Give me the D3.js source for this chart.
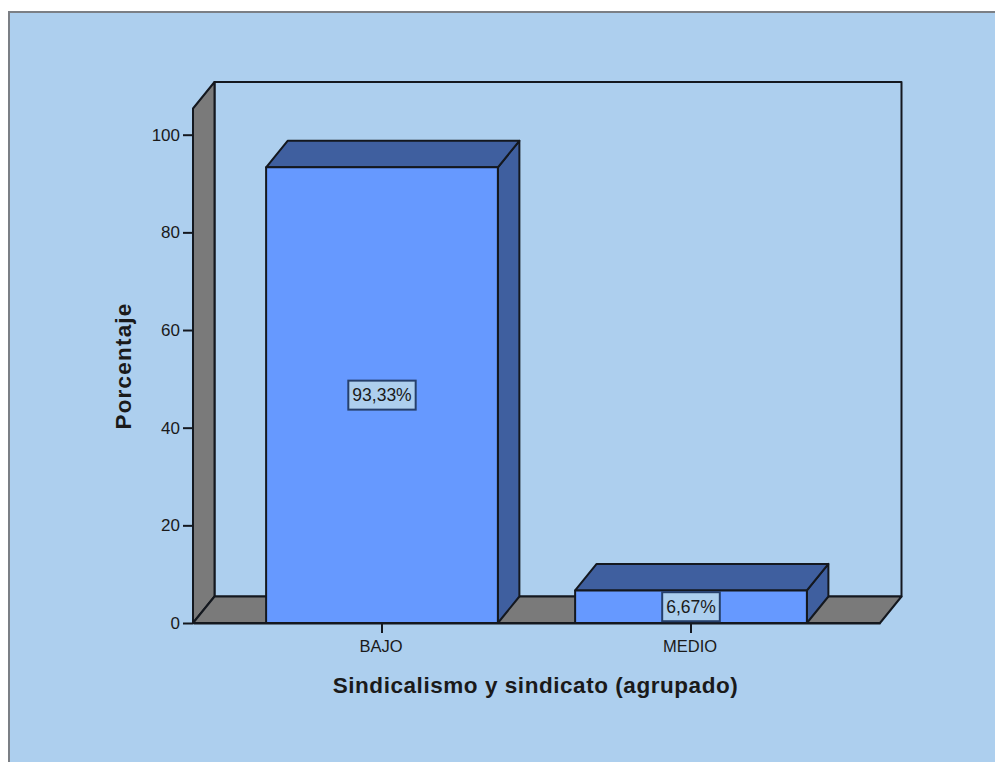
<!DOCTYPE html>
<html>
<head>
<meta charset="utf-8">
<script src="https://cdn.jsdelivr.net/npm/d3@7/dist/d3.min.js"></script>
<style>
html, body { margin: 0; padding: 0; background: #fff; }
svg { display: block; }
text { font-family: "Liberation Sans", Arial, sans-serif; fill: #1a1a1a; }
</style>
</head>
<body>
<svg id="chart" width="995" height="762"></svg>
<script>
const categories = ["BAJO", "MEDIO"];
const percentages = [93.33, 6.67];
const percentLabels = ["93,33%", "6,67%"];
const yTicks = [0, 20, 40, 60, 80, 100];
const xTitle = "Sindicalismo y sindicato (agrupado)";
const yTitle = "Porcentaje";

const W = 995, H = 762;
const ink = "#14181f";
const depthX = 21.5, depthY = -26.5;
const plot = { left: 193, right: 880, bottom: 623, top: 108.5 };

const svg = d3.select("#chart");

const x = d3.scaleBand()
  .domain(categories)
  .range([plot.left, plot.right])
  .paddingInner(0.25)
  .paddingOuter(0.2366);

const y = d3.scaleLinear()
  .domain([0, 100])
  .range([plot.bottom, 134.7]);

// Outer panel with its grey border on the top and left edges
svg.append("rect").attr("width", W).attr("height", H).attr("fill", "#fff");
svg.append("rect").attr("x", 9).attr("y", 12).attr("width", W).attr("height", H)
  .attr("fill", "#adcfee").attr("stroke", "#7b7f85").attr("stroke-width", 2);

const pts = a => a.map(p => p.join(",")).join(" ");
const wallStyle = s => s.attr("stroke", ink).attr("stroke-width", 2).attr("stroke-linejoin", "round");

// Back wall of the 3D box
svg.append("rect")
  .attr("x", plot.left + depthX).attr("y", plot.top + depthY)
  .attr("width", plot.right - plot.left).attr("height", plot.bottom - plot.top)
  .attr("fill", "#adcfee").call(wallStyle);

// Left wall
svg.append("polygon")
  .attr("points", pts([
    [plot.left, plot.top], [plot.left + depthX, plot.top + depthY],
    [plot.left + depthX, plot.bottom + depthY], [plot.left, plot.bottom]
  ]))
  .attr("fill", "#7a7a7a").call(wallStyle);

// Floor
svg.append("polygon")
  .attr("points", pts([
    [plot.left, plot.bottom], [plot.left + depthX, plot.bottom + depthY],
    [plot.right + depthX, plot.bottom + depthY], [plot.right, plot.bottom]
  ]))
  .attr("fill", "#7a7a7a").call(wallStyle);

// Axes
const yAxis = d3.axisLeft(y).tickValues(yTicks).tickSize(10).tickSizeOuter(0).tickPadding(3);
const gy = svg.append("g").attr("transform", `translate(${plot.left},0)`).call(yAxis);
gy.select(".domain").remove();
gy.selectAll("line").attr("stroke", ink).attr("stroke-width", 2);
gy.selectAll("text").attr("font-size", 17).attr("font-family", null);

const xAxis = d3.axisBottom(x).tickSize(10).tickSizeOuter(0).tickPadding(7);
const gx = svg.append("g").attr("transform", `translate(0,${plot.bottom})`).call(xAxis);
gx.select(".domain").attr("stroke", ink).attr("stroke-width", 2);
gx.selectAll("line").attr("stroke", ink).attr("stroke-width", 2);
gx.selectAll("text").attr("font-size", 16.5).attr("font-family", null).attr("dx", -1);

// 3D bars: side, top, front
const bars = svg.selectAll("g.bar")
  .data(categories.map((c, i) => ({ c, v: percentages[i], label: percentLabels[i] })))
  .join("g").attr("class", "bar");

bars.append("polygon")
  .attr("points", d => {
    const r = x(d.c) + x.bandwidth(), t = y(d.v);
    return pts([[r, t], [r + depthX, t + depthY], [r + depthX, plot.bottom + depthY], [r, plot.bottom]]);
  })
  .attr("fill", "#3f5f9f").call(wallStyle);

bars.append("polygon")
  .attr("points", d => {
    const l = x(d.c), r = l + x.bandwidth(), t = y(d.v);
    return pts([[l, t], [l + depthX, t + depthY], [r + depthX, t + depthY], [r, t]]);
  })
  .attr("fill", "#3f5f9f").call(wallStyle);

bars.append("rect")
  .attr("x", d => x(d.c)).attr("y", d => y(d.v))
  .attr("width", x.bandwidth()).attr("height", d => y(0) - y(d.v))
  .attr("fill", "#6699ff").call(wallStyle);

// Value labels in small boxes at the middle of each bar front
const label = bars.append("g")
  .attr("transform", d => `translate(${x(d.c) + x.bandwidth() / 2},${(y(d.v) + y(0)) / 2})`);

label.append("text")
  .attr("text-anchor", "middle").attr("dy", "0.35em")
  .attr("font-size", 17.5).text(d => d.label);

label.insert("rect", "text")
  .each(function () {
    const b = this.parentNode.querySelector("text").getBBox();
    d3.select(this)
      .attr("x", b.x - 4).attr("width", b.width + 8)
      .attr("y", -14.5).attr("height", 29);
  })
  .attr("fill", "#adcfee").attr("stroke", "#26406c").attr("stroke-width", 2);

// Axis titles
svg.append("text")
  .attr("x", 535.5).attr("y", 693)
  .attr("text-anchor", "middle")
  .attr("font-size", 22.5).attr("font-weight", "bold")
  .attr("letter-spacing", 0.55)
  .text(xTitle);

svg.append("text")
  .attr("transform", "translate(131,366) rotate(-90)")
  .attr("text-anchor", "middle")
  .attr("font-size", 22.5).attr("font-weight", "bold")
  .attr("letter-spacing", 1.2)
  .text(yTitle);
</script>
</body>
</html>
